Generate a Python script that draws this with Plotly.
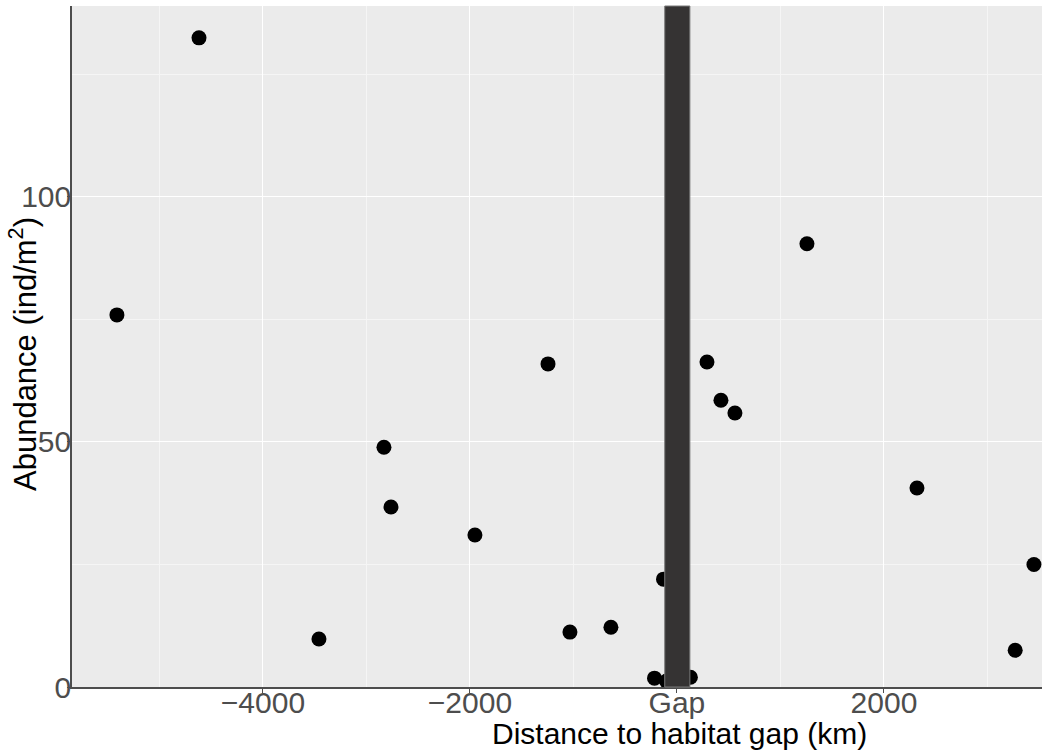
import plotly.graph_objects as go

distance_km = [-5411, -4618, -3459, -2831, -2763, -1952, -1246, -1034, -638,
               -130, -217, -101, 130, 290, 425, 560, 1256, 2319, 3268, 3449]
abundance = [75.9, 132.4, 9.8, 48.9, 36.7, 31.0, 65.9, 11.2, 12.2,
             22.0, 1.8, 1.2, 2.0, 66.3, 58.5, 55.9, 90.4, 40.6, 7.5, 25.0]

gap_extent = [-118, 125]
x_tickvals = [-4000, -2000, 0, 2000]
x_ticktext = ["\u22124000", "\u22122000", "Gap", "2000"]
x_minor = [-5000, -3000, -1000, 1000, 3000]
y_tickvals = [0, 50, 100]
y_ticktext = ["0", "50", "100"]
y_minor = [25, 75, 125]
x_title = "Distance to habitat gap (km)"
y_title = "Abundance (ind/m<sup>2</sup>)"

fig = go.Figure()
fig.add_trace(go.Scatter(
    x=distance_km, y=abundance, mode="markers",
    marker=dict(color="black", size=15, line=dict(width=0)),
    cliponaxis=False, showlegend=False, hoverinfo="x+y"))

fig.add_shape(type="rect", xref="x", yref="paper",
              x0=gap_extent[0], x1=gap_extent[1], y0=0, y1=1,
              fillcolor="#353333", line=dict(color="#7a7a7a", width=1),
              layer="above")

font_family = "Liberation Sans, Arial, sans-serif"
fig.add_annotation(text=x_title, xref="paper", yref="paper", x=0.6268, y=-0.0676,
                   xanchor="center", yanchor="middle", showarrow=False,
                   font=dict(size=30, color="black", family=font_family))
fig.add_annotation(text=y_title, xref="paper", yref="paper", x=-0.0505, y=0.489,
                   xanchor="center", yanchor="middle", showarrow=False, textangle=-90,
                   font=dict(size=31, color="black", family=font_family))

fig.update_layout(
    width=1042, height=756,
    margin=dict(l=72, r=0, t=6, b=69),
    paper_bgcolor="white", plot_bgcolor="#EBEBEB",
    font=dict(family=font_family),
    xaxis=dict(
        range=[-5845, 3527], tickvals=x_tickvals, ticktext=x_ticktext,
        tickfont=dict(size=30, color="#4D4D4D"),
        automargin=False, ticklabelstandoff=-16,
        showgrid=True, gridcolor="white", gridwidth=1.2,
        minor=dict(tickvals=x_minor, showgrid=True, gridcolor="#F5F5F5", gridwidth=0.6, ticks=""),
        showline=True, linecolor="#4D4D4D", linewidth=1.6,
        ticks="outside", ticklen=4, tickcolor="#4D4D4D", tickwidth=1.2,
        zeroline=False,
    ),
    yaxis=dict(
        range=[0, 138.9], tickvals=y_tickvals, ticktext=y_ticktext,
        tickfont=dict(size=30, color="#4D4D4D"),
        automargin=False, ticklabelstandoff=-10,
        showgrid=True, gridcolor="white", gridwidth=1.2,
        minor=dict(tickvals=y_minor, showgrid=True, gridcolor="#F5F5F5", gridwidth=0.6, ticks=""),
        showline=True, linecolor="#4D4D4D", linewidth=1.6,
        ticks="outside", ticklen=3, tickcolor="#4D4D4D", tickwidth=1.2,
        zeroline=False,
    ),
)

fig.write_html("out.html")
